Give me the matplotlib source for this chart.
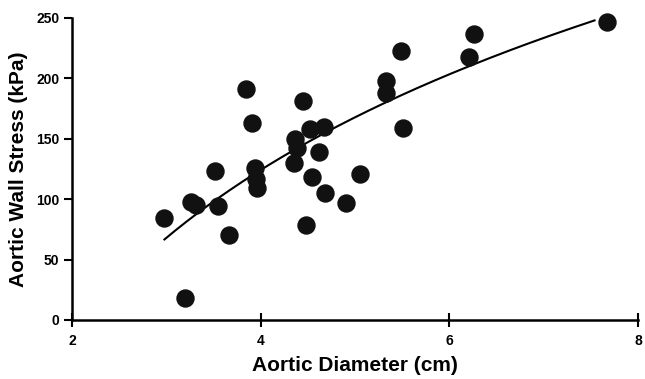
import numpy as np
import matplotlib.pyplot as plt

plt.rcParams['font.family'] = ['Liberation Sans', 'DejaVu Sans']

# aortic diameter (cm) and wall stress (kPa)
diameter = [2.98, 3.20, 3.26, 3.32, 3.52, 3.55, 3.66, 3.84, 3.91, 3.94,
            3.95, 3.96, 4.45, 4.35, 4.36, 4.39, 4.52, 4.62, 4.54, 4.48,
            4.67, 4.68, 5.05, 4.90, 5.33, 5.33, 5.49, 5.51, 6.21, 6.26, 7.67]
stress = [84, 18, 98, 95, 123, 94, 70, 191, 163, 126,
          117, 109, 181, 130, 150, 142, 158, 139, 118, 79,
          160, 105, 121, 97, 198, 188, 223, 159, 218, 237, 247]

# logarithmic fit: stress = a + b*ln(diameter)
fit_a = -146.6
fit_b = 195.3
fit_range = (2.98, 7.54)

fig = plt.figure(figsize=(6.45, 3.79), dpi=100)
ax = fig.add_axes([0.1116, 0.1557, 0.8775, 0.797])

ax.scatter(diameter, stress, s=150, color='#111111', zorder=3, clip_on=False)

xs = np.linspace(fit_range[0], fit_range[1], 200)
ax.plot(xs, fit_a + fit_b * np.log(xs), color='black', lw=1.5, zorder=2)

ax.set_xlim(2, 8)
ax.set_ylim(0, 250)
ax.set_xticks([2, 4, 6, 8])
ax.set_yticks([0, 50, 100, 150, 200, 250])

for s in ['top', 'right']:
    ax.spines[s].set_visible(False)
for s in ['left', 'bottom']:
    ax.spines[s].set_linewidth(1.8)

ax.tick_params(axis='y', direction='out', length=6, width=1.5, labelsize=10, pad=3)
ax.tick_params(axis='x', direction='inout', length=10, width=1.5, labelsize=10, pad=5)
for lab in ax.get_xticklabels() + ax.get_yticklabels():
    lab.set_fontweight('bold')

ax.set_xlabel('Aortic Diameter (cm)', fontsize=15, fontweight='bold', labelpad=6)
ax.set_ylabel('Aortic Wall Stress (kPa)', fontsize=15, fontweight='bold', labelpad=6)

fig.savefig('out.png', dpi=100)
